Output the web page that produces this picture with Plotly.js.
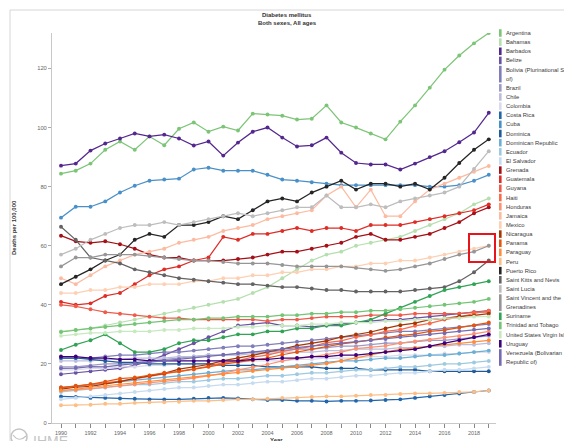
<!DOCTYPE html>
<html><head><meta charset="utf-8">
<script src="https://cdn.plot.ly/plotly-3.0.1.min.js"></script>
<style>html,body{margin:0;padding:0;background:#fff;overflow:hidden}#chart{width:564px;height:441px}</style>
</head><body><div id="chart"></div>
<script>
const years = [1990,1991,1992,1993,1994,1995,1996,1997,1998,1999,2000,2001,2002,2003,2004,2005,2006,2007,2008,2009,2010,2011,2012,2013,2014,2015,2016,2017,2018,2019];
const yTicks = [0,20,40,60,80,100,120];
const titleLines = ["Diabetes mellitus","Both sexes, All ages"];

const countries = ["Argentina","Bahamas","Barbados","Belize","Bolivia (Plurinational State of)","Brazil","Chile","Colombia","Costa Rica","Cuba","Dominica","Dominican Republic","Ecuador","El Salvador","Grenada","Guatemala","Guyana","Haiti","Honduras","Jamaica","Mexico","Nicaragua","Panama","Paraguay","Peru","Puerto Rico","Saint Kitts and Nevis","Saint Lucia","Saint Vincent and the Grenadines","Suriname","Trinidad and Tobago","United States Virgin Islands","Uruguay","Venezuela (Bolivarian Republic of)"];
const legendLabels = ["Argentina","Bahamas","Barbados","Belize","Bolivia (Plurinational State|of)","Brazil","Chile","Colombia","Costa Rica","Cuba","Dominica","Dominican Republic","Ecuador","El Salvador","Grenada","Guatemala","Guyana","Haiti","Honduras","Jamaica","Mexico","Nicaragua","Panama","Paraguay","Peru","Puerto Rico","Saint Kitts and Nevis","Saint Lucia","Saint Vincent and the|Grenadines","Suriname","Trinidad and Tobago","United States Virgin Islands","Uruguay","Venezuela (Bolivarian|Republic of)"];
const colors = ["#7cc576","#b5dfae","#54278f","#6a51a3","#807dba","#9e9ac8","#bcbddc","#dadaeb","#2166ac","#4a90c8","#1f5a99","#6baed6","#9ecae1","#c6dbef","#a50f15","#de2d26","#ef5b4b","#fb6a4a","#fc9272","#fcbba1","#fdd0b4","#a63603","#e6550d","#fd8d3c","#fdbe85","#252525","#636363","#bdbdbd","#969696","#31a354","#74c476","#c7e9c0","#3f007d","#756bb1"];

const argentina = [84.4,85.4,87.8,92.5,95.3,92.5,97,94,99.6,101.7,98.6,100.3,99,104.7,104.4,104,102.7,103,107.5,101.7,100,98,96,102,107.5,113.5,119.6,124.4,128.5,132];
const bahamas = [31,31.5,32,33,34,35,36,37,38,39,40,41,42,44,46,49,52,55,57,58,60,61,62,63,65,67,69,71,74,76];
const barbados = [87.1,87.8,92.2,94.6,96.3,98,97,97.6,96.3,93.9,95.3,90.5,94.9,98.6,100,96.6,93.6,94,96.6,91.5,88,87.5,87.5,85.8,87.8,90,92,95,98.3,105];
const belize = [16.5,17,17.5,18,18.5,19.5,21,23,25,27,29,31,33,33.5,34,33,33,32.5,33,33.5,34,34.5,35,35,35.5,36,36.5,37,37.5,38];
const bolivia = [22,22,22,22.5,23,23,23.5,24,24,24.5,25,25.5,26,26,26.5,27,27.5,28,28.5,29,29.5,30,30.5,31,31,31.5,32,32.5,33,33.5];
const brazil = [19,19,19.5,20,20,20.5,21,21.5,22,22.5,23,23,23.5,24,24,24.5,25,25,25.5,26,26,26.5,27,27,27.5,28,28,28.5,29,29.5];
const chile = [21,21,21,21.5,21.5,22,22,22,22.5,22.5,23,23,23,23.5,23.5,24,24,24,24.5,24.5,25,25,25,25.5,25.5,26,26,26.5,26.5,27];
const colombia = [18,18,18.5,18.5,19,19,19.5,19.5,20,20,20,20.5,20.5,21,21,21,21.5,21.5,22,22,22,22.5,22.5,23,23,23,23.5,23.5,24,24];
const costaRica = [9,8.8,8.5,8.5,8.3,8.2,8,8,8,8.2,8.5,8.5,8.3,8,7.8,7.8,7.5,7.5,7.3,7.5,7.5,7.6,7.8,8,8.5,9,9.5,10,10.5,11];
const cuba = [69.5,73.2,73.2,75,78,80.3,82,82.4,82.7,85.8,86.4,85.4,85.4,85.4,84,82.4,82,81.5,81,80.5,80.5,80.5,80.5,80.5,80.5,80,80,80.5,82,84];
const dominica = [22,22,21.5,21,20.5,20.5,20,20,20,20,20,19.5,19.5,19.5,19,19,19,19,18.5,18.5,18.5,18,18,18,18,17.5,17.5,17.5,17.5,17.5];
const dominicanRepublic = [12,12.5,13,13.5,14,14.5,15,15.5,16,16.5,17,17.5,18,18,18.5,19,19.5,20,20.5,21,21,21.5,22,22,22.5,23,23,23.5,24,24.5];
const ecuador = [10.5,11,11.5,12,12.5,13,13,13.5,14,14,14.5,15,15,15.5,16,16,16.5,17,17,17.5,18,18,18.5,19,19,19.5,20,20,20.5,21];
const elSalvador = [8,8.5,9,9.5,10,10.5,11,11.5,12,12,12.5,13,13,13.5,14,14,14.5,15,15,15.5,16,16,16.5,17,17,17.5,18,18,18.5,19];
const grenada = [63.4,61.5,61,61.5,60.5,59,57,56,56,55,55,55,55.5,56,57,58,58,59,60,61,63,64,62,62,63,64,66,68,71,73];
const guatemala = [41,40,40.5,43,44,47,50,52,53,55,56,63,62,64,64,65,66,65,66,66,65,67,67,67,68,69,70,71,72,74];
const guyana = [40,39.5,38.5,37.5,37,36.5,36,35.5,35.5,35,35,35,35,35,34.5,35,35,35.5,36,36,36,36.5,36.5,36.5,37,37,37,37,37.5,37.5];
const haiti = [12,12.4,13.1,13.6,14.2,14.9,15.8,16.5,17.6,18.3,19.2,20.4,21.1,22.3,23,24.2,25.1,25.9,27.2,27.8,29.1,29.8,31,31.6,32.9,33.7,35,35.8,37.1,38];
const honduras = [11,11.2,11.6,12.1,12.6,13.1,13.4,14.1,14.6,15.2,16.1,16.8,18,18.9,19.8,21,21.9,22.4,23.1,24,25.2,25.6,26.1,27,27.6,28.2,29,29.4,30.2,31];
const jamaica = [49,47,50,53,55,57,58,59,61,62,63,65,66,67,69,70,71,72,77,80,73,79,70,70,75,79,81,83,85,87];
const mexico = [44,44,45,45,46,46,47,47,47,48,48,49,49,50,50,51,51,52,52,53,53,54,54,55,55,56,57,58,59,60];
const nicaragua = [11.5,12.1,12.4,13.2,14,15.1,16,16.8,18.2,19,19.8,21.1,22,22.9,24.1,25,26.2,27,27.8,29.1,30,30.8,32,33.1,33.8,35,35.4,36.1,36.4,37];
const panama = [12,12.6,13.1,14,15,15.4,16.1,17,17.4,18.1,19,19.9,20.6,21.2,22,23.1,24,25.1,26,26.8,27.4,28.1,29,29.6,30.1,31,31.4,32.2,33,34];
const paraguay = [11,11.4,12.1,12.6,13,13.6,14.1,14.4,15.1,15.6,16,16.4,17.1,17.6,18,18.4,19.1,19.6,20.1,21,22.1,23,24.1,24.9,25.4,26.1,26.6,27,27.4,28];
const peru = [6,6,6.2,6.5,6.5,6.8,7,7,7.2,7.5,7.5,7.8,8,8,8.2,8.5,8.5,8.8,9,9,9.2,9.5,9.5,9.8,10,10,10.2,10.5,10.5,11];
const puertoRico = [47,49.5,52,55,57,62,64,63,67,67,68,70,69,72,75,76,75,78,80,82,79,81,81,80,81,79,83,88,92.5,96];
const saintKitts = [66.4,62,56,55,54,52,51,50,49,48.5,48,47.5,47,47,46.5,46,46,45.5,45,45,44.5,44.5,44.5,44.5,45,45.5,46,48,51,55];
const saintLucia = [57,59,62,64,66,67,67,68,67,68,69,70,71,70,71,72,73,73,77,73,73,74,73,75,76,77,78,80,86,92];
const saintVincent = [53,56,56,57,57,57,56.5,56,55.5,55,55,54.5,54,54,54,53.5,53,53,53,53,52.5,52,51.5,52,53,54,55.5,57,58,60];
const suriname = [24.7,26.5,28,30,27,24,24,25,27,28,28,29,30,30,31,31,32,32,33,33,34,35,37,39,41,43,45,46,47,48];
const trinidad = [30.8,31.5,32,32.5,33,33.5,34,34.5,35,35,35.5,35.5,36,36,36,36.5,36.5,37,37,37.5,37.5,38,38,38.5,39,39.5,40,40.5,41,42];
const usvi = [29.5,30,30.5,30.5,31,31,31,31.5,31.5,32,32,32,32.5,32.5,33,33,33,33.5,33.5,34,34,34,34.5,34.5,35,35,35.5,35.5,36,36];
const uruguay = [22.5,22.5,22,22,21.5,21.5,21,21,21,21,21,21,21,21.5,21.5,22,22,22.5,22.5,23,23,23.5,24,24.5,25,26,27,28,29,30];
const venezuela = [18.5,18.6,19.1,19,19.6,20.1,20.4,21.1,21.6,22,22.4,23.1,23.6,24,24.4,25.1,25.6,26,26.4,27.1,27.6,28,28.4,29.1,29.6,30,30.4,31.1,31.6,32];

const seriesValues = [argentina,bahamas,barbados,belize,bolivia,brazil,chile,colombia,costaRica,cuba,dominica,dominicanRepublic,ecuador,elSalvador,grenada,guatemala,guyana,haiti,honduras,jamaica,mexico,nicaragua,panama,paraguay,peru,puertoRico,saintKitts,saintLucia,saintVincent,suriname,trinidad,usvi,uruguay,venezuela];

const W = 564, H = 441;
const PL = 52, PR = 496, PT = 33, PB = 423;
const px2x = p => (p - PL) / (PR - PL);
const px2y = p => (PB - p) / (PB - PT);
const FONT = '"Liberation Sans", Arial, sans-serif';

const traces = countries.map((name, i) => ({
  type: 'scatter', mode: 'lines+markers', name: name,
  x: years, y: seriesValues[i],
  line: {color: colors[i], width: 1.25},
  marker: {color: colors[i], size: 3.9},
  hoverinfo: 'skip'
}));

const annotations = [];
const shapes = [];
// legend (drawn manually)
const rowStep = 9.14, row0 = 33;
let row = 0;
legendLabels.forEach((lab, i) => {
  const lines = lab.split('|');
  const top = row0 + row * rowStep - rowStep / 2 + 0.8;
  const bot = row0 + (row + lines.length - 1) * rowStep + rowStep / 2 - 0.8;
  shapes.push({type: 'rect', xref: 'paper', yref: 'paper', x0: px2x(499), x1: px2x(501.6), y0: px2y(bot), y1: px2y(top), fillcolor: colors[i], line: {width: 0}});
  lines.forEach((ln, j) => {
    annotations.push({xref: 'paper', yref: 'paper', x: px2x(503.5), y: px2y(row0 + (row + j) * rowStep), xanchor: 'left', yanchor: 'middle', text: ln, showarrow: false, font: {family: FONT, size: 5.8, color: '#3a3a3a'}});
  });
  row += lines.length;
});

// chart title (two lines)
titleLines.forEach((t, j) => {
  annotations.push({xref: 'paper', yref: 'paper', x: px2x(287), y: px2y(15 + j * 7.5), text: '<b>' + t + '</b>', showarrow: false, xanchor: 'center', yanchor: 'middle', font: {family: FONT, size: 6, color: '#333'}});
});
// axis titles
annotations.push({xref: 'paper', yref: 'paper', x: px2x(14), y: 0.5, textangle: -90, text: '<b>Deaths per 100,000</b>', showarrow: false, xanchor: 'center', yanchor: 'middle', font: {family: FONT, size: 6, color: '#333'}});
annotations.push({xref: 'paper', yref: 'paper', x: px2x(276), y: px2y(440), text: '<b>Year</b>', showarrow: false, xanchor: 'center', yanchor: 'middle', font: {family: FONT, size: 6, color: '#333'}});
// IHME logo text
annotations.push({xref: 'paper', yref: 'paper', x: px2x(31), y: px2y(431), text: 'IHME', showarrow: false, xanchor: 'left', yanchor: 'top', font: {family: FONT, size: 14, color: '#c4c4c4'}});
shapes.push({type: 'circle', xref: 'paper', yref: 'paper', x0: px2x(11), x1: px2x(27), y0: px2y(445), y1: px2y(429), line: {color: '#c4c4c4', width: 1.5}});
shapes.push({type: 'path', xref: 'paper', yref: 'paper', path: 'M ' + px2x(13) + ' ' + px2y(435) + ' Q ' + px2x(19) + ' ' + px2y(443) + ' ' + px2x(26) + ' ' + px2y(436), line: {color: '#c4c4c4', width: 1.2}});
// frame lines
shapes.push({type: 'line', xref: 'paper', yref: 'paper', x0: px2x(10), x1: px2x(564), y0: px2y(10), y1: px2y(10), line: {color: '#d6d6d6', width: 1}});
shapes.push({type: 'line', xref: 'paper', yref: 'paper', x0: px2x(10), x1: px2x(10), y0: px2y(10), y1: px2y(441), line: {color: '#d6d6d6', width: 1}});
// red highlight box
shapes.push({type: 'rect', xref: 'paper', yref: 'paper', x0: px2x(469), x1: px2x(495), y0: px2y(262), y1: px2y(234), line: {color: '#e8141c', width: 2}, fillcolor: 'rgba(0,0,0,0)'});

const layout = {
  width: W, height: H,
  margin: {l: PL, r: W - PR, t: PT, b: H - PB, pad: 0},
  paper_bgcolor: '#ffffff', plot_bgcolor: '#ffffff',
  showlegend: false,
  font: {family: FONT},
  xaxis: {
    range: [1989.39, 2019.49], tickmode: 'array', tickvals: years,
    ticktext: years.map(y => (y % 2 === 0 ? String(y) : '')),
    ticks: 'outside', ticklen: 4, tickwidth: 1, tickcolor: '#888',
    showgrid: false, zeroline: false, showline: true, linecolor: '#c8c8c8', linewidth: 1,
    tickfont: {family: FONT, size: 5.5, color: '#666'}, fixedrange: true
  },
  yaxis: {
    range: [0, 132], tickmode: 'array', tickvals: yTicks,
    ticks: 'outside', ticklen: 3, tickwidth: 1, tickcolor: '#aaa',
    showgrid: false, zeroline: false, showline: true, linecolor: '#c8c8c8', linewidth: 1,
    tickfont: {family: FONT, size: 5.8, color: '#666'}, fixedrange: true
  },
  annotations: annotations,
  shapes: shapes
};

Plotly.newPlot('chart', traces, layout, {staticPlot: true, displayModeBar: false});
</script>
</body></html>
